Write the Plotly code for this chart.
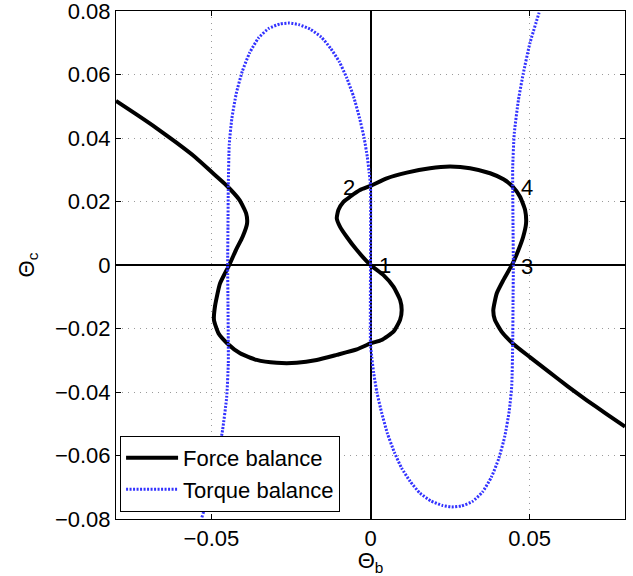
import plotly.graph_objects as go

# Force balance curve
force_x = [-0.0800, -0.0737, -0.0674, -0.0611, -0.0549, -0.0496, -0.0454, -0.0412, -0.0391, -0.0388,
           -0.0402, -0.0423, -0.0444, -0.0473, -0.0489, -0.0492, -0.0478, -0.0450, -0.0410, -0.0358,
           -0.0295, -0.0232, -0.0169, -0.0106, -0.0043, 0.0000, 0.0035, 0.0072, 0.0093, 0.0098,
           0.0093, 0.0072, 0.0040, 0.0000, -0.0043, -0.0075, -0.0096, -0.0106, -0.0101, -0.0085,
           -0.0064, -0.0033, 0.0000, 0.0051, 0.0114, 0.0187, 0.0250, 0.0313, 0.0376, 0.0418,
           0.0447, 0.0470, 0.0486, 0.0489, 0.0480, 0.0465, 0.0447, 0.0418, 0.0397, 0.0386,
           0.0391, 0.0412, 0.0447, 0.0501, 0.0560, 0.0620, 0.0680, 0.0740, 0.0800]
force_y = [0.0517, 0.0475, 0.0432, 0.0386, 0.0338, 0.0290, 0.0252, 0.0205, 0.0163, 0.0131,
           0.0089, 0.0047, 0.0000, -0.0058, -0.0131, -0.0173, -0.0215, -0.0247, -0.0278, -0.0299,
           -0.0308, -0.0308, -0.0299, -0.0283, -0.0266, -0.0247, -0.0236, -0.0210, -0.0173, -0.0142,
           -0.0110, -0.0068, -0.0031, 0.0000, 0.0047, 0.0089, 0.0121, 0.0147, 0.0173, 0.0199,
           0.0215, 0.0236, 0.0249, 0.0273, 0.0291, 0.0305, 0.0310, 0.0305, 0.0289, 0.0270,
           0.0247, 0.0215, 0.0173, 0.0131, 0.0089, 0.0047, 0.0005, -0.0047, -0.0089, -0.0142,
           -0.0173, -0.0210, -0.0247, -0.0290, -0.0336, -0.0382, -0.0426, -0.0468, -0.0509]

# Torque balance curve
torque_x = [-0.0530, -0.0501, -0.0480, -0.0465, -0.0452, -0.0447, -0.0447, -0.0448, -0.0449, -0.0448,
            -0.0447, -0.0444, -0.0436, -0.0422, -0.0403, -0.0380, -0.0352, -0.0320, -0.0285, -0.0255,
            -0.0225, -0.0190, -0.0155, -0.0125, -0.0098, -0.0075, -0.0053, -0.0035, -0.0020, -0.0010,
            -0.0004, 0.0000, 0.0000, 0.0000, 0.0004,
            0.0010, 0.0020, 0.0035, 0.0053, 0.0075, 0.0098, 0.0125, 0.0155, 0.0190, 0.0225,
            0.0255, 0.0285, 0.0320, 0.0352, 0.0380, 0.0403, 0.0422, 0.0436, 0.0444, 0.0447,
            0.0448, 0.0449, 0.0448, 0.0447, 0.0447, 0.0452, 0.0465, 0.0480, 0.0501, 0.0530]
torque_y = [-0.0795, -0.0698, -0.0602, -0.0520, -0.0415, -0.0310, -0.0247, -0.0120, 0.0000, 0.0120,
            0.0250, 0.0380, 0.0460, 0.0540, 0.0610, 0.0668, 0.0715, 0.0745, 0.0759, 0.0762,
            0.0757, 0.0743, 0.0718, 0.0682, 0.0640, 0.0590, 0.0530, 0.0465, 0.0400, 0.0340,
            0.0290, 0.0250, 0.0000, -0.0250, -0.0290,
            -0.0340, -0.0400, -0.0465, -0.0530, -0.0590, -0.0640, -0.0682, -0.0718, -0.0743, -0.0757,
            -0.0762, -0.0759, -0.0745, -0.0715, -0.0668, -0.0610, -0.0540, -0.0460, -0.0380, -0.0250,
            -0.0120, 0.0000, 0.0120, 0.0247, 0.0310, 0.0415, 0.0520, 0.0602, 0.0698, 0.0795]

# Labelled intersection points
label_text = ["1", "2", "3", "4"]
label_x = [0.0000, -0.0042, 0.0450, 0.0450]
label_y = [0.0000, 0.0244, -0.0005, 0.0244]

x_ticks = [-0.05, 0, 0.05]
x_ticktext = ["\u22120.05", "0", "0.05"]
y_ticks = [-0.08, -0.06, -0.04, -0.02, 0, 0.02, 0.04, 0.06, 0.08]
y_ticktext = ["\u22120.08", "\u22120.06", "\u22120.04", "\u22120.02", "0", "0.02", "0.04", "0.06", "0.08"]

FONT = "Liberation Sans, Arial, Helvetica, sans-serif"
FS = 22

fig = go.Figure()
fig.add_trace(go.Scatter(x=force_x, y=force_y, mode="lines", name="Force balance",
                         line=dict(color="black", width=4, shape="spline", smoothing=0.5)))
fig.add_trace(go.Scatter(x=torque_x, y=torque_y, mode="lines", name="Torque balance",
                         line=dict(color="rgb(50,50,255)", width=3, dash="2px,1.5px",
                                   shape="spline", smoothing=0.5)))

xoff = [6, -12, 5, 5]
for t, x, y, dx in zip(label_text, label_x, label_y, xoff):
    fig.add_annotation(x=x, y=y, text=t, showarrow=False, xanchor="left" if dx > 0 else "right",
                       yanchor="middle", xshift=dx if dx > 0 else 0,
                       font=dict(family=FONT, size=FS, color="black"))

axis_common = dict(showline=True, linecolor="black", linewidth=1, mirror="ticks",
                   ticks="inside", ticklen=5, tickcolor="black", automargin=False,
                   ticklabeloverflow="allow",
                   showgrid=True, gridcolor="#9a9a9a", griddash="1px,5px", gridwidth=1,
                   zeroline=True, zerolinecolor="black", zerolinewidth=1.5,
                   tickfont=dict(family=FONT, size=FS, color="black"))

fig.update_xaxes(range=[-0.08, 0.08], tickvals=x_ticks, ticktext=x_ticktext,
                 title=dict(text="\u0398<sub>b</sub>", font=dict(family=FONT, size=FS, color="black"),
                            standoff=8),
                 **axis_common)
fig.update_yaxes(range=[-0.08, 0.08], tickvals=y_ticks, ticktext=y_ticktext,
                 title=dict(text="\u0398<sub>c</sub>", font=dict(family=FONT, size=FS, color="black"),
                            standoff=14),
                 **axis_common)

fig.update_layout(
    width=633, height=576,
    margin=dict(l=116, r=8, t=11, b=57),
    paper_bgcolor="white", plot_bgcolor="white",
    font=dict(family=FONT, size=FS, color="black"),
    legend=dict(x=0.008, y=0.014, xanchor="left", yanchor="bottom",
                bgcolor="white", bordercolor="black", borderwidth=1,
                font=dict(family=FONT, size=FS, color="black"),
                tracegroupgap=0, itemwidth=52),
    showlegend=True,
)

fig.write_html("out.html")
